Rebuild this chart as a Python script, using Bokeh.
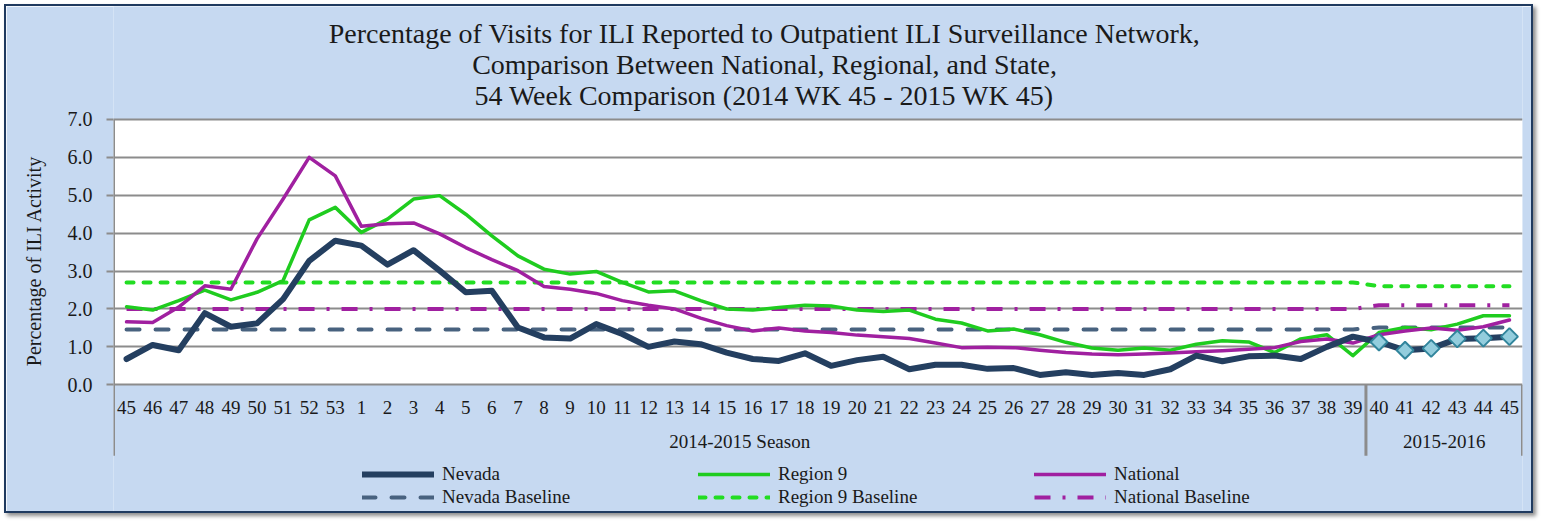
from bokeh.plotting import figure
from bokeh.models import (Range1d, FixedTicker, PrintfTickFormatter, Legend, LegendItem,
                          BoxAnnotation)
from bokeh.core.properties import value
from bokeh.embed import file_html
from bokeh.resources import INLINE

# ---------------- data ----------------
weeks = ["45", "46", "47", "48", "49", "50", "51", "52", "53",
         "1", "2", "3", "4", "5", "6", "7", "8", "9", "10", "11", "12", "13", "14", "15",
         "16", "17", "18", "19", "20", "21", "22", "23", "24", "25", "26", "27", "28", "29",
         "30", "31", "32", "33", "34", "35", "36", "37", "38", "39",
         "40", "41", "42", "43", "44", "45"]
season_names = ["2014-2015 Season", "2015-2016"]
season_sizes = [48, 6]

nevada = [0.68, 1.05, 0.91, 1.89, 1.53, 1.62, 2.26, 3.27, 3.80, 3.67,
          3.17, 3.55, 3.01, 2.44, 2.48, 1.51, 1.25, 1.22, 1.60, 1.34,
          1.00, 1.14, 1.07, 0.85, 0.68, 0.63, 0.83, 0.50, 0.65, 0.74,
          0.41, 0.53, 0.53, 0.42, 0.44, 0.26, 0.33, 0.26, 0.31, 0.26,
          0.41, 0.77, 0.62, 0.75, 0.77, 0.68, 1.00, 1.27, 1.13, 0.91,
          0.96, 1.21, 1.23, 1.27]
region9 = [2.06, 1.97, 2.22, 2.50, 2.24, 2.44, 2.75, 4.35, 4.68, 4.02,
           4.37, 4.90, 4.99, 4.50, 3.93, 3.40, 3.05, 2.92, 2.99, 2.70,
           2.45, 2.48, 2.22, 2.00, 1.97, 2.04, 2.10, 2.08, 1.97, 1.93,
           1.97, 1.73, 1.63, 1.42, 1.47, 1.32, 1.12, 0.97, 0.91, 0.97,
           0.91, 1.07, 1.16, 1.13, 0.85, 1.21, 1.32, 0.77, 1.38, 1.51,
           1.45, 1.60, 1.82, 1.82]
national = [1.66, 1.64, 2.05, 2.61, 2.52, 3.85, 4.90, 6.00, 5.51, 4.18,
            4.25, 4.27, 3.98, 3.62, 3.30, 3.01, 2.59, 2.52, 2.41, 2.22,
            2.10, 2.00, 1.76, 1.56, 1.42, 1.50, 1.42, 1.38, 1.31, 1.27,
            1.22, 1.10, 0.98, 0.99, 0.98, 0.91, 0.85, 0.81, 0.79, 0.81,
            0.84, 0.87, 0.90, 0.94, 0.98, 1.14, 1.21, 1.10, 1.32, 1.42,
            1.50, 1.44, 1.53, 1.71]
# baselines per season (same order as season_names)
nevada_baseline = [1.46, 1.51]
region9_baseline = [2.70, 2.60]
national_baseline = [2.00, 2.10]

y_ticks = [0, 1, 2, 3, 4, 5, 6, 7]
title_lines = ["Percentage of Visits for ILI Reported to Outpatient ILI Surveillance Network,",
               "Comparison Between National, Regional, and State,",
               "54 Week Comparison (2014 WK 45 - 2015 WK 45)"]

# ---------------- derived ----------------
season_of_week = [name for name, n in zip(season_names, season_sizes) for _ in range(n)]
x = list(range(len(weeks)))


def expand(per_season):
    lookup = dict(zip(season_names, per_season))
    return [lookup[s] for s in season_of_week]


# ---------------- style / layout ----------------
FONT = "Liberation Serif"
BG = "#C6D9F1"
GRID = "#8C8C8C"
TXT = "#1a1a1a"
NAVY = "#243F60"
NAVY_BASE = "#48627F"
GREEN = "#1FCC1F"
GREEN_BASE = "#22DD22"
PURPLE = "#A020A0"
Y_MIN, Y_MAX = -3.449, 9.98      # frame covers the whole chart box vertically
AXIS_BOTTOM = -1.87              # where the category separators / axis line end
LABEL_Y = -0.61
GROUP_Y = -1.50
TITLE_X = 24.45
TITLE_Y = [9.27, 8.45, 7.63]

p = figure(width=1529, height=509, output_backend="svg", toolbar_location=None, tools="",
           x_range=Range1d(-0.5, len(weeks) - 0.5), y_range=Range1d(Y_MIN, Y_MAX),
           x_axis_location=None,
           min_border_left=107, min_border_right=13, min_border_top=0, min_border_bottom=0)
p.styles = {"border": "2px solid #1F3A5F", "box-shadow": "3px 3px 4px rgba(0,0,0,0.45)",
            "margin": "4px 0 0 4px"}
p.background_fill_color = BG
p.border_fill_color = BG
p.outline_line_color = None
p.xgrid.visible = False

# white plotting area
p.add_layout(BoxAnnotation(bottom=min(y_ticks), top=max(y_ticks), fill_color="white",
                           fill_alpha=1.0, line_color=None, level="image"))

p.ygrid.ticker = FixedTicker(ticks=y_ticks)
p.ygrid.grid_line_color = GRID
p.ygrid.grid_line_width = 2

ax = p.yaxis[0]
ax.ticker = FixedTicker(ticks=y_ticks)
ax.formatter = PrintfTickFormatter(format="%.1f")
ax.major_label_text_font = FONT
ax.major_label_text_font_size = "20px"
ax.major_label_text_color = TXT
ax.major_label_standoff = 14
ax.axis_line_color = None
ax.major_tick_line_color = GRID
ax.major_tick_line_width = 2
ax.major_tick_out = 7
ax.major_tick_in = 0
ax.minor_tick_line_color = None
ax.axis_label = "Percentage of ILI Activity"
ax.axis_label_text_font = FONT
ax.axis_label_text_font_size = "20px"
ax.axis_label_text_font_style = "normal"
ax.axis_label_text_color = TXT
ax.axis_label_standoff = 20

# left axis line and category separators
starts, bounds = [], [-0.5]
acc = 0
for n in season_sizes:
    starts.append(acc + (n - 1) / 2)
    acc += n
    bounds.append(acc - 0.5)
p.segment(x0=bounds, y0=[max(y_ticks)] + [0] * (len(bounds) - 1), x1=bounds,
          y1=[AXIS_BOTTOM] * len(bounds), line_color=GRID, line_width=3)

# baselines
r_nev_b = p.line(x, expand(nevada_baseline), line_color=NAVY_BASE, line_width=4,
                 line_dash="13 16", line_cap="round")
r_r9_b = p.line(x, expand(region9_baseline), line_color=GREEN_BASE, line_width=4,
                line_dash="7 10", line_cap="round")
r_nat_b = p.line(x, expand(national_baseline), line_color=PURPLE, line_width=4,
                 line_dash="16 12 3 12")

# series
r_r9 = p.line(x, region9, line_color=GREEN, line_width=3.5, line_join="round", line_cap="round")
r_nat = p.line(x, national, line_color=PURPLE, line_width=3.5, line_join="round", line_cap="round")
r_nev = p.line(x, nevada, line_color=NAVY, line_width=6, line_join="round", line_cap="round")

cur = [i for i, s in enumerate(season_of_week) if s == season_names[-1]]
p.scatter([x[i] for i in cur], [nevada[i] for i in cur], marker="square", angle=0.7853981634,
          size=12, fill_color="#93CDDD", line_color="#31859C", line_width=2)

# category axis labels
p.text(x=x, y=[LABEL_Y] * len(x), text=weeks, text_align="center", text_baseline="middle",
       text_font=value(FONT), text_font_size=value("19px"), text_color=TXT)
p.text(x=starts, y=[GROUP_Y] * len(starts), text=season_names, text_align="center",
       text_baseline="middle", text_font=value(FONT), text_font_size=value("19px"), text_color=TXT)

# title
p.text(x=[TITLE_X] * len(title_lines), y=TITLE_Y, text=title_lines, text_align="center",
       text_baseline="middle", text_font=value(FONT), text_font_size=value("28px"), text_color=TXT)

# legend
legend = Legend(items=[LegendItem(label="Nevada", renderers=[r_nev]),
                       LegendItem(label="Region 9", renderers=[r_r9]),
                       LegendItem(label="National", renderers=[r_nat]),
                       LegendItem(label="Nevada Baseline", renderers=[r_nev_b]),
                       LegendItem(label="Region 9 Baseline", renderers=[r_r9_b]),
                       LegendItem(label="National Baseline", renderers=[r_nat_b])],
                orientation="horizontal", ncols=3, location=(249, 7),
                glyph_width=72, glyph_height=20, label_height=20, label_width=255,
                label_standoff=8, spacing=1, padding=0, margin=0,
                background_fill_alpha=0, border_line_color=None,
                label_text_font=FONT, label_text_font_size="19px", label_text_color=TXT)
p.add_layout(legend)

open("out.html", "w").write(file_html(p, INLINE))
